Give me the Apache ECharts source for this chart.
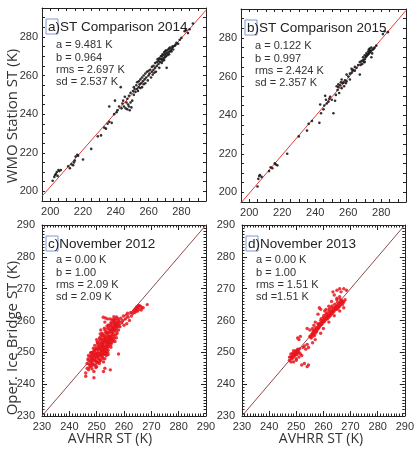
<!DOCTYPE html>
<html>
<head>
<meta charset="utf-8">
<script src="https://cdn.jsdelivr.net/npm/echarts@6/dist/echarts.min.js"></script>
<style>
  html, body { margin: 0; padding: 0; background: #fff; }
  #chart { width: 417px; height: 451px; }
</style>
</head>
<body>
<div id="chart"></div>
<script>
// a) WMO station vs AVHRR 2014
var ptsA = [
  [201.5,205.5],[202.5,207.5],[203,208.5],[204,210],[204.5,208],[205,211],[205.5,210.5],[206.5,211],[203.5,209],
  [211,213],[212,212],[213,214],[214,213.5],[215,216],[215.5,218],[216.5,219],[217,218.5],[214.5,215],
  [220,216.5],[225,222],
  [229,228.5],[231,229],[233,233],[234,232.5],[235,235],[236,236],[236,244],[237.5,235.5],[239,240],[239.5,247],[240.5,241],
  [241,242],[242,244],[243,254],[243.5,243],[244,245.5],[244.5,247],[245,244],[245.5,249],[246,243],[246.5,246],[247,242.5],
  [247,248],[247.5,245],[248,244],[248,249.5],[248.5,242],[249,246],[249,251],[249.5,243.5],[250,247],
  [250.5,252],[251,250],[251,254],[251.5,253],[252,251.5],[252.5,255],[253,253],[253,256.5],[253.5,252],[254,254],[254,257],
  [254.5,255.5],[255,253.5],[255,258],[255.5,256],[256,254],[256,259],[256.5,257],[257,255.5],[257,260],[257.5,258],[258,256],
  [258,261],[258.5,259],[259,262],[259.5,257.5],[260,260],[260,262.5],
  [260.5,261],[261,263],[261.5,259],[262,262],[262,264.5],[262.5,260.5],[263,263],[263,265],[263.5,261.5],[264,264],[264,266.5],
  [264.5,262],[265,265],[265,267],
  [265.5,268.5],[266,266],[266,267.5],[266.5,264],[266.5,269],[267,267],[267,268.5],[267.5,270],[268,266.5],[268,268.5],[268,270],
  [268.5,267.5],[268.5,271],[269,269],[269,270.5],[269.5,268],[269.5,272],[270,269.5],[270,271],[270,272.5],[270.5,270],[270.5,273],
  [271,264],[271,271.5],[271,273],[271.5,270.5],[272,272],[272,273.5],[272.5,274],[272.5,271],[273,272.5],[273,274.5],[273.5,273],
  [274,272.5],[274,274],[274.5,275],[275,273.5],[275,275],[276,275.5],[276.5,276],[277,277],[278,276.5],[279,278.5],
  [280,279.5],[282,283],[283,283.5],[284,282],[285,284],[287,287]
];
// b) WMO station vs AVHRR 2015
var ptsB = [
  [205,203],[205.5,207],[206,208.5],[206.5,209],[207.5,208],
  [212,211],[213,213],[214,212.5],[215.5,215],[216,214.5],[217,214],
  [223,220],[230,229],[235,232],[236,235.5],[238,237],
  [242.5,236],[243,245.5],[243.5,241],[245,243],[245.5,245],[246,250],[246.5,248],[247,246],[248,247],[248.5,248.5],[249,249.5],[250,248],
  [251,241],[252,247.5],[252.5,250.5],[253,255],[253.5,253],[254,254.5],[254,256],[254.5,251.5],[255,255.5],[255.5,257],[256,254],
  [256,258.5],[256.5,256.5],[257,257],[257.5,255],[258,258],[258.5,256.5],[259,261],[259,257.5],[260,260],[261,258.5],[261,261.5],
  [262,262],[262,264],[262.5,263],[263,263.5],[264,265],[264,263],[265,264.5],[266,266],[267,261],[267,267.5],[267.5,266],[268,268],
  [268.5,266.5],[269,268.5],[269,270],[269.5,267.5],[270,269],[270,271],[270.5,270],[271,270.5],[271,272],[271.5,271],[272,271.5],
  [272,273],[272.5,274],[272.5,272],[273,272.5],[273,273.5],[273,274.5],[273.5,273],[274,273.5],[274,275],[274.5,272],[275,274],
  [275.5,274.5],[276,275],[277,276],[274,270],[270,267.5],
  [281,282],[282,283.5],[284,283]
];
// c) Ice Bridge vs AVHRR, November 2012
var ptsC = [
  [246,243.5],[246.5,246.5],[246.5,245],[247,247.5],[247,244.5],[247.5,246],[247.5,248.5],[248,245.5],[248,247],[248,249],
  [248.5,246.5],[248.5,248],[248.5,250],[249,244],[249,247.5],[249,249],[249,250.5],[249.5,246],[249.5,248.5],[249.5,251],
  [250,247],[250,249.5],[250,251.5],[250,245.5],
  [250.5,248],[250.5,250],[250.5,252.5],[251,246.5],[251,249],[251,251],[251,253],[251,254.5],[251.5,247.5],[251.5,250],
  [251.5,252],[251.5,255],[252,248.5],[252,250.5],[252,252.5],[252,254],[252,256],[252.5,247],[252.5,249.5],[252.5,251.5],
  [252.5,253],[252.5,255.5],[253,248],[253,250],[253,252],[253,253.5],[253,255],[253,257],[253.5,249],[253.5,251],[253.5,252.5],
  [253.5,254.5],[253.5,256.5],[254,250],[254,251.5],[254,253],[254,255],[254,257.5],[254.5,252],[254.5,254],[254.5,256],[254.5,258],
  [255,253],[255,255],[255,256.5],[255,258.5],[255,260.5],[255.5,254],[255.5,255.5],[255.5,257],[255.5,259],[256,253.5],[256,255],
  [256,256.5],[256,258],[256,259.5],[256.5,254.5],[256.5,257],[256.5,258.5],[256.5,260],[257,255.5],[257,257.5],[257,259],
  [257,260.5],[257.5,256],[257.5,258],[257.5,259.5],[258,257],[258,259],[258,260],[258.5,258],
  [258,249.5],[255,244.5],[253,245],[249,242],[252.5,244],[246,242.5],[254,260.5],[253,259.5],[250,254],[251.5,257],
  [259.5,260],[260,258.5],[260.5,260.5],[261,259],[261.5,261],[262,260],[262.5,262.5],[263.5,263],[264,263.5],[264.5,263],
  [265,264],[265.5,263.5],[266,264.5],[266.5,264],[267,264],[268.5,265],[264,262.5],[265,263],
  [249.5,247.5],[250,248.5],[250.5,249],[251,248],[251.5,249],[252,249.5],[252,251.5],[252.5,250.5],[253,251],[253.5,250],
  [254,252],[254.5,253],[255,254],[255.5,253],[256,254],[248,248],[249,246],[250.5,251],[251,252],[252,253],[253,254],[254,254],
  [255,257],[256,257.5],[256.5,259],[257,258.5],[255.5,258],[254.5,255],[253.5,253.5],[252.5,252],[251.5,251],[250.5,247],
  [249.5,249.5],[248,250],[247,249],
  [247.2,246.3],[247.8,247.1],[248.3,246.1],[248.7,247.6],[248.2,248.7],[248.8,249.4],[249.3,248.2],[249.7,247.1],[249.2,250.2],
  [249.8,250.8],[250.3,246.7],[250.2,248.8],[250.7,249.7],[250.8,251.6],[250.3,252.9],[251.2,247.3],[251.3,249.6],[251.7,250.6],
  [251.8,252.7],[251.2,253.8],[251.7,254.2],[252.3,248.1],[252.2,249.1],[252.7,250.2],[252.8,251.2],[252.3,253.4],[252.7,254.6],
  [252.2,255.3],[253.2,249.4],[253.3,250.6],[253.7,251.8],[253.8,253.1],[253.2,254.2],[253.7,255.7],[253.3,256.2],[254.2,250.7],
  [254.3,252.6],[254.7,253.6],[254.8,254.7],[254.2,256.3],[254.7,257.2],[254.3,258.6],[255.2,252.4],[255.3,254.6],[255.7,256.2],
  [255.8,257.8],[255.2,259.3],[255.7,260.1],[256.2,255.6],[256.3,257.2],[256.7,258.1],[256.8,259.6],[256.2,260.4],[257.2,256.6],
  [257.3,258.4],[257.7,259.1],[257.8,260.6],[258.2,258.3],[258.3,259.6],[257.2,254.6],[256.7,253.4],[255.2,251.6],[254.2,249.3],
  [249.7,245.2],[248.3,244.8],[247.3,245.2],[246.8,247.9],[247.8,249.8],[248.8,251.3],[249.3,252.2],[250.2,253.3],[251.3,255.8],
  [252.8,257.6],[253.8,258.3],[256.3,261.2],[257.3,261.1],[258.8,260.7],[259.2,259.3],[259.8,261.4],[260.8,261.7],[261.3,262.3],
  [262.7,261.4],[263.2,262.2],[264.7,264.3],[265.7,264.6],[266.3,263.3],[264.3,263.8],[265.3,264.7],[252.4,261],[253.2,260.8]
];
// d) Ice Bridge vs AVHRR, November 2013
var ptsD = [
  [247.5,247.5],[248,248.5],[248,249.5],[248.5,248],[248.5,249],[249,249.5],[249,248.5],[249,250.5],[249.5,249],[249.5,250],
  [250,249.5],[250,250.5],[250,248],[250.5,250],[250.5,251],[251,250],[249,247],[250,247.5],[251,248.5],[251.5,249.5],[248,247],
  [247.5,248.5],[252,249],
  [250.5,254.5],[251,254],[251.5,255],[252.5,251.5],[253,252],[253.5,251],[254,252.5],[254.5,251.5],[253,246.5],[254,245.5],
  [254.5,246],[252,246],
  [255,255],[255.5,255.5],[255.5,254.5],[256,256],[256,255],[256.5,256.5],[257,257],[257,256],[257.5,257.5],[257.5,256.5],
  [258,258],[258,257.5],[258.5,258],[258.5,259],[259,259],[259,258.5],[259.5,259.5],[259.5,259],[260,260],[260,259.5],
  [260.5,260.5],[260.5,260],[261,261],[261,260.5],[261.5,261.5],[261.5,260.5],[262,262],[262,261],[262.5,262.5],[262.5,261.5],
  [263,263],[263,262],[263.5,263],[263.5,262.5],[264,264],[264,263],[264.5,264],[264.5,263.5],[265,264.5],[265,263.5],
  [265.5,265],[265.5,264],[266,265.5],[266,264.5],[266.5,265.5],[267,266],[267,265],[267.5,266],[268,266.5],[260,261],
  [261,262],[262,263],[263,264],[259,260],[258,259],
  [254,257.5],[255,257],[256,257.5],[256.5,258.5],[257,259.5],[258,262],[258.5,264],[259,263.5],[260.5,263],[261,263.5],
  [262,264.5],[263,266],[264,268],[263.5,269],[265,267],[265,269.5],[266,270],[266.5,269],[267.5,270],[268.5,269.5],
  [265,266.5],[266,267.5],
  [259,256],[260,257.5],[262,259.5],[264,261.5],[256,253],[257,254],[266,263],[267.5,264],
  [248.3,248.3],[248.7,249.7],[249.3,249.2],[249.7,250.3],[250.3,249.3],[250.7,250.6],[251.2,251.1],[255.3,254.8],[256.3,255.7],
  [256.7,255.3],[257.3,256.8],[257.8,257.2],[258.3,257.7],[258.7,258.4],[259.3,258.8],[259.7,259.8],[260.3,259.7],[260.7,260.3],
  [261.3,260.8],[261.7,261.2],[262.3,261.6],[262.7,262.2],[263.3,262.7],[263.7,263.4],[264.3,263.6],[264.7,264.4],[265.3,264.2],
  [265.7,264.7],[266.3,265.1],[266.7,266.3],[267.3,265.6],[266.2,266.6],[265.2,265.7],[264.2,265.1],[263.2,264.6],[262.2,263.6],
  [261.2,262.4],[260.2,261.6],[259.2,260.6],[258.2,258.7],[257.2,257.7],[256.2,256.8]
];

// fitted / 1:1 lines (ends of the axis range)
var lineA = [[195, 197.46], [295, 293.86]];
var lineB = [[195, 194.54], [295, 294.24]];
var lineC = [[230, 230], [290, 290]];
var lineD = [[230, 230], [290, 290]];

var labelsAB = [200, 220, 240, 260, 280];
var labelsCD = [230, 240, 250, 260, 270, 280, 290];

var titles = ['ST Comparison 2014', 'ST Comparison 2015', 'November 2012', 'November 2013'];
var tags = ['a', 'b', 'c', 'd'];
var stats = [
  ['a = 9.481 K', 'b = 0.964', 'rms = 2.697 K', 'sd = 2.537 K'],
  ['a = 0.122 K', 'b = 0.997', 'rms = 2.424 K', 'sd = 2.357 K'],
  ['a = 0.00 K', 'b = 1.00', 'rms = 2.09 K', 'sd = 2.09 K'],
  ['a = 0.00 K', 'b = 1.00', 'rms = 1.51 K', 'sd =1.51 K']
];

var grids = [
  { left: 42, top: 8, width: 164, height: 193 },
  { left: 241, top: 9, width: 165, height: 193 },
  { left: 42, top: 225, width: 164, height: 191 },
  { left: 242, top: 225, width: 164, height: 191 }
];

var FONT = 'Liberation Sans';

function makeAxis(gi, pos, big, showLabel) {
  var ab = gi < 2;
  return {
    type: 'value',
    gridIndex: gi,
    position: pos,
    min: ab ? 195 : 230,
    max: ab ? 295 : 290,
    interval: ab ? 5 : 10,
    axisLine: { show: true, onZero: false, lineStyle: { color: '#222', width: 1 } },
    axisTick: { show: true, inside: true, length: ab ? 3 : 5, lineStyle: { color: '#222' } },
    minorTick: { show: !ab, splitNumber: 10, length: 2.5, lineStyle: { color: '#222' } },
    splitLine: { show: false },
    axisLabel: {
      show: showLabel,
      customValues: ab ? labelsAB : labelsCD,
      fontSize: 11,
      fontFamily: FONT,
      color: '#333',
      margin: big ? 5 : (ab ? 4 : 7)
    }
  };
}

var xAxes = [], yAxes = [], series = [], graphics = [];
var allPts = [ptsA, ptsB, ptsC, ptsD];
var allLines = [lineA, lineB, lineC, lineD];

grids.forEach(function (g, i) {
  xAxes.push(makeAxis(i, 'bottom', true, true));
  xAxes.push(makeAxis(i, 'top', true, false));
  yAxes.push(makeAxis(i, 'left', false, true));
  yAxes.push(makeAxis(i, 'right', false, false));
  var ab = i < 2;
  series.push({
    type: 'line',
    xAxisIndex: 2 * i,
    yAxisIndex: 2 * i,
    data: allLines[i],
    symbol: 'none',
    silent: true,
    lineStyle: { color: ab ? '#e0403a' : '#8e4a4a', width: 1 },
    z: 1
  });
  series.push({
    type: 'scatter',
    xAxisIndex: 2 * i,
    yAxisIndex: 2 * i,
    data: allPts[i],
    symbol: 'circle',
    symbolSize: ab ? 2.6 : 3.4,
    itemStyle: { color: ab ? '#1a1a1a' : '#e8141c', opacity: ab ? 0.9 : 0.85 },
    z: 2
  });

  // panel tag box + title
  var bx = g.left + 4, by = g.top + 11;
  graphics.push({
    type: 'rect',
    shape: { x: bx, y: by, width: 12, height: 15 },
    style: { fill: 'none', stroke: '#7d9bd2', lineWidth: 1 }
  });
  graphics.push({
    type: 'text',
    x: bx + 2, y: by + 8,
    style: {
      text: tags[i] + ')' + titles[i],
      font: '13.5px "' + FONT + '"',
      fill: '#222',
      verticalAlign: 'middle'
    }
  });
  graphics.push({
    type: 'text',
    x: g.left + 14, y: g.top + (i < 2 ? 31 : 29),
    style: {
      text: stats[i].join('\n'),
      font: '11px "' + FONT + '"',
      lineHeight: 12.4,
      fill: '#333'
    }
  });
});

graphics.push({
  type: 'text', x: 13, y: 116, rotation: Math.PI / 2,
  style: { text: 'WMO Station ST (K)', font: '15px "Open Sans"', fill: '#333', align: 'center', verticalAlign: 'middle' }
});
graphics.push({
  type: 'text', x: 13, y: 338, rotation: Math.PI / 2,
  style: { text: 'Oper. Ice Bridge ST (K)', font: '15px "Open Sans"', fill: '#333', align: 'center', verticalAlign: 'middle' }
});
graphics.push({
  type: 'text', x: 110, y: 439,
  style: { text: 'AVHRR ST (K)', font: '14px "Open Sans"', fill: '#333', align: 'center', verticalAlign: 'middle' }
});
graphics.push({
  type: 'text', x: 321, y: 439,
  style: { text: 'AVHRR ST (K)', font: '14px "Open Sans"', fill: '#333', align: 'center', verticalAlign: 'middle' }
});

var chart = echarts.init(document.getElementById('chart'), null, { renderer: 'canvas' });
chart.setOption({
  animation: false,
  backgroundColor: '#fff',
  grid: grids,
  xAxis: xAxes,
  yAxis: yAxes,
  series: series,
  graphic: graphics
});
</script>
</body>
</html>
